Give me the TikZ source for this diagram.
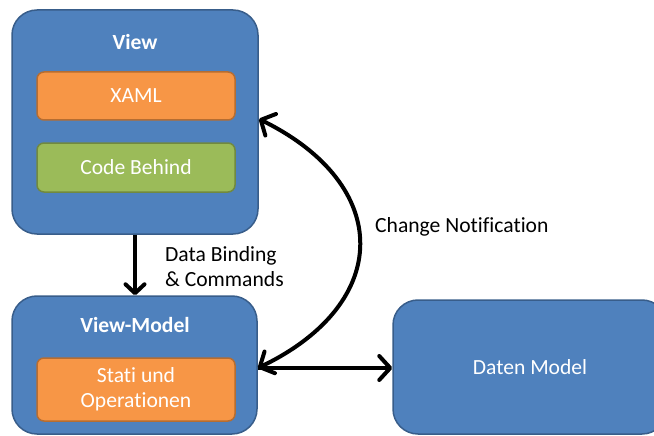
\documentclass[tikz,border=0pt]{standalone}
\usepackage{fontspec}
\setmainfont{Carlito}[Ligatures=NoCommon]
\usetikzlibrary{arrows.meta}

\definecolor{boxblue}{HTML}{4F81BD}
\definecolor{boxblueline}{HTML}{385D8A}
\definecolor{boxorange}{HTML}{F79646}
\definecolor{boxorangeline}{HTML}{B66D31}
\definecolor{boxgreen}{HTML}{9BBB59}
\definecolor{boxgreenline}{HTML}{71893F}

\tikzset{
  txt/.style={font=\fontsize{21.6}{25}\selectfont},
  layerbox/.style={draw=boxblueline, fill=boxblue, line width=1.5pt,
    rounded corners=25pt, inner sep=0pt},
  partbox/.style={line width=1.5pt, rounded corners=7pt, inner sep=0pt,
    minimum width=198pt, text=white, txt, align=center},
  orangebox/.style={partbox, draw=boxorangeline, fill=boxorange},
  greenbox/.style={partbox, draw=boxgreenline, fill=boxgreen},
  boxtitle/.style={text=white, font=\fontsize{21.6}{25}\selectfont\bfseries},
  barb/.style={Straight Barb[length=11pt,width=24pt,line cap=round,line join=round]},
  flow/.style={line width=4pt, draw=black, -{Straight Barb[length=11pt,width=24pt,line cap=round,line join=round]}},
  bothflow/.style={line width=4pt, draw=black,
    {Straight Barb[length=11pt,width=24pt,line cap=round,line join=round]}-{Straight Barb[length=11pt,width=24pt,line cap=round,line join=round]}},
  caption/.style={txt, text=black, align=left, anchor=west, inner sep=0pt}
}

\begin{document}
\begin{tikzpicture}[x=1pt, y=-1pt]
  \useasboundingbox (0,0) rectangle (654,436);
  \clip (0,0) rectangle (654,436);

  % View layer
  \node[layerbox, minimum width=246pt, minimum height=224pt] (view) at (135,122) {};
  \node[boxtitle] (viewtitle) at (135,42) {View};
  \node[orangebox, minimum height=48pt] (xaml) at (136,96) {XAML};
  \node[greenbox, minimum height=49pt] (code) at (136,167.5) {Code Behind};

  % View-Model layer
  \node[layerbox, minimum width=245pt, minimum height=138pt] (vm) at (134.5,365) {};
  \node[boxtitle] (vmtitle) at (135,325) {View-Model};
  \node[orangebox, minimum height=63pt] (stati) at (136,389.5) {Stati und\\Operationen};

  % Data model
  \node[layerbox, minimum width=274pt, minimum height=134pt, text=white, txt] (model) at (530,367) {Daten Model};

  % Connectors
  \coordinate (vtop) at (259,119);
  \coordinate (vmside) at (258,368);
  \draw[line width=4pt, -{Straight Barb[length=9pt,width=19pt,line cap=round,line join=round]}]
    (view.south -| 135,0) -- (vm.north -| 135,0);
  \draw[bothflow] (vtop) .. controls (393,185) and (393,303) .. (vmside);
  \draw[flow] (vmside) -- (model.west |- vmside);

  % Labels
  \node[caption] (binding) at (165,267) {Data Binding\\\& Commands};
  \node[caption] (notify) at (375,227) {Change Notification};
\end{tikzpicture}
\end{document}
